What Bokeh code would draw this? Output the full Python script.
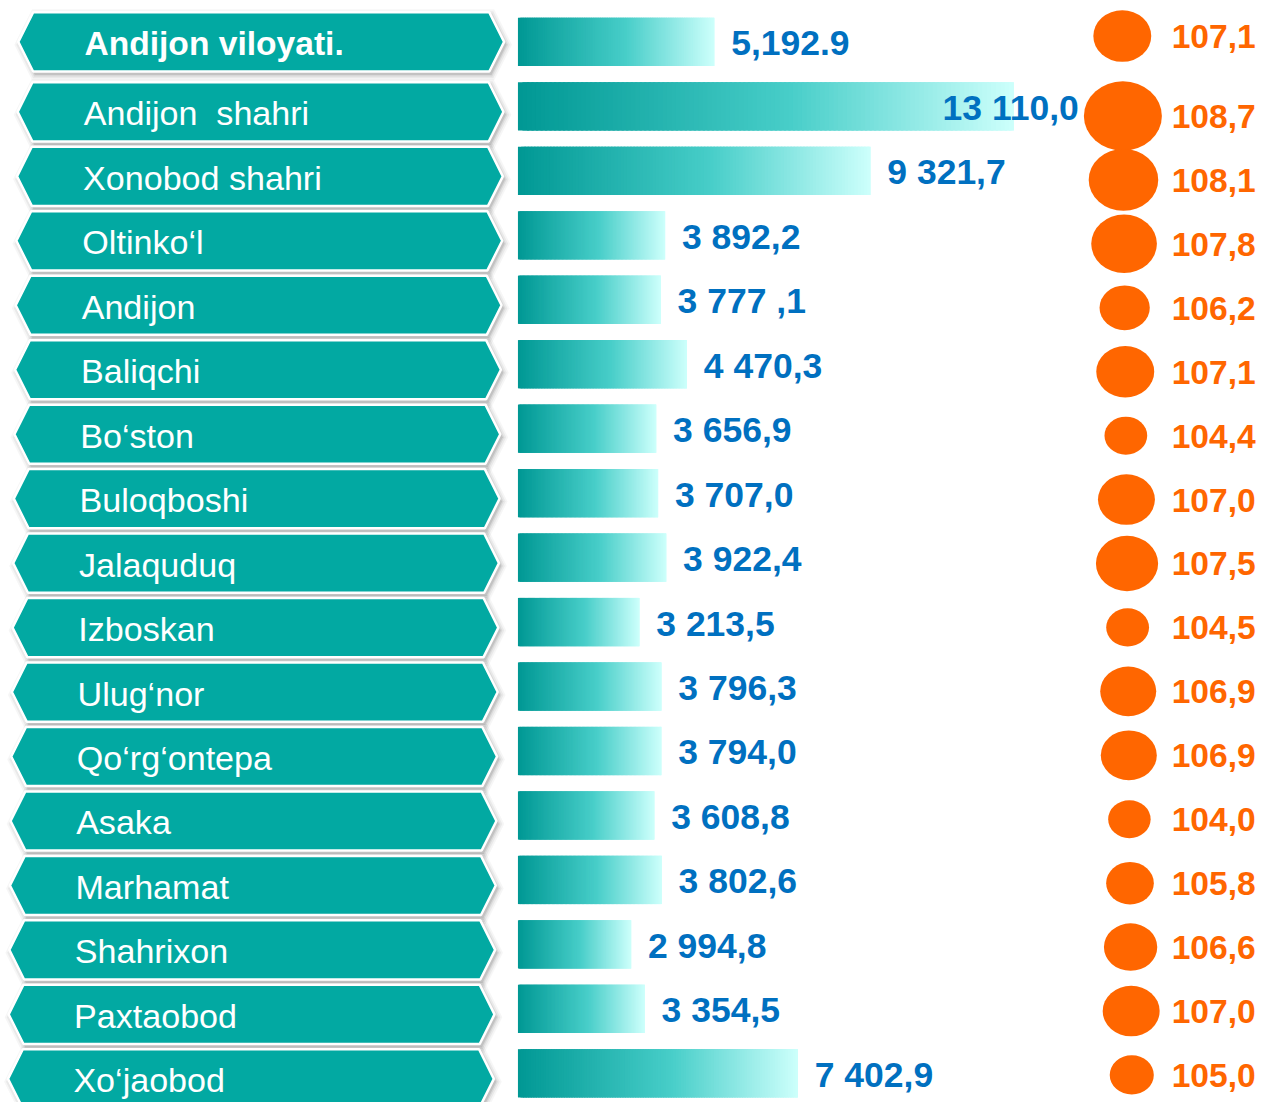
import numpy as np
from bokeh.plotting import figure
from bokeh.models import Range1d, ColumnDataSource
from bokeh.core.properties import value
from bokeh.embed import file_html
from bokeh.resources import INLINE

# ---------------- data ----------------
districts = ["Andijon viloyati.", "Andijon \u00a0shahri", "Xonobod shahri", "Oltinko\u2018l",
             "Andijon", "Baliqchi", "Bo\u2018ston", "Buloqboshi", "Jalaquduq", "Izboskan",
             "Ulug\u2018nor", "Qo\u2018rg\u2018ontepa", "Asaka", "Marhamat", "Shahrixon",
             "Paxtaobod", "Xo\u2018jaobod"]
amounts = [5192.9, 13110.0, 9321.7, 3892.2, 3777.1, 4470.3, 3656.9, 3707.0, 3922.4,
           3213.5, 3796.3, 3794.0, 3608.8, 3802.6, 2994.8, 3354.5, 7402.9]
amount_labels = ["5,192.9", "13 110,0", "9 321,7", "3 892,2", "3 777 ,1", "4 470,3",
                 "3 656,9", "3 707,0", "3 922,4", "3 213,5", "3 796,3", "3 794,0",
                 "3 608,8", "3 802,6", "2 994,8", "3 354,5", "7 402,9"]
growth = [107.1, 108.7, 108.1, 107.8, 106.2, 107.1, 104.4, 107.0, 107.5, 104.5,
          106.9, 106.9, 104.0, 105.8, 106.6, 107.0, 105.0]
growth_labels = ["107,1", "108,7", "108,1", "107,8", "106,2", "107,1", "104,4", "107,0",
                 "107,5", "104,5", "106,9", "106,9", "104,0", "105,8", "106,6", "107,0",
                 "105,0"]

# ---------------- layout (designed on a 1279 x 1118 canvas, rendered slightly smaller) ----
W, H = 1263, 1102
REF_W, REF_H = 1279, 1118
K = 0.0383                 # canvas pixels per unit of amount
BAR_X0 = 524               # canvas x of bar origin
ROW_Y0, ROW_STEP = 42, 65.4
CIR_Y0, CIR_STEP = 52.3, 64.86
FS = W / REF_W             # font scale

p = figure(width=W, height=H, output_backend="svg", toolbar_location=None,
           x_range=Range1d((0 - BAR_X0) / K, (REF_W - BAR_X0) / K),
           y_range=Range1d((REF_H - ROW_Y0) / ROW_STEP, (0 - ROW_Y0) / ROW_STEP),
           x_axis_location=None, y_axis_location=None, min_border=0,
           outline_line_color=None, background_fill_color="white",
           border_fill_color="white")
p.grid.visible = False
p.extra_x_ranges = {"px": Range1d(0, REF_W)}
p.extra_y_ranges = {"circ": Range1d((REF_H - CIR_Y0) / CIR_STEP, (0 - CIR_Y0) / CIR_STEP)}

n = len(districts)

def fs(px):
    return "%.1fpx" % (px * FS)

# ---------------- banners ----------------
def banner_center(i):
    return ROW_Y0 + ROW_STEP * i + (0.0 if i == 0 else 5.6)

def hexagon(i, grow=0.0, dx=0.0, dy=0.0):
    shift = -0.65 * i
    cy = banner_center(i) + dy
    L = 18 + shift + dx
    R = 510 + shift + dx
    hh = 30 + grow
    xs = [L - grow, L + 15 - grow * 0.5, R - 15 + grow * 0.5, R + grow,
          R - 15 + grow * 0.5, L + 15 - grow * 0.5]
    ys_px = [cy, cy - hh, cy - hh, cy, cy + hh, cy + hh]
    ys = [(y - ROW_Y0) / ROW_STEP for y in ys_px]
    return xs, ys

for grow, alpha in [(6, 0.035), (4, 0.05), (2, 0.07), (0.5, 0.10)]:
    xs, ys = zip(*[hexagon(i, grow, 2, 3) for i in range(n)])
    p.patches(xs=list(xs), ys=list(ys), x_range_name="px", fill_color="black",
              fill_alpha=alpha, line_color=None)

xs, ys = zip(*[hexagon(i) for i in range(n)])
p.patches(xs=list(xs), ys=list(ys), x_range_name="px", fill_color="#02A9A2",
          line_color="white", line_width=2.5)

lbl_x = [85 - 0.7 * i for i in range(n)]
lbl_y = [(banner_center(i) + 1.5 - ROW_Y0) / ROW_STEP for i in range(n)]
p.text(x=lbl_x[:1], y=lbl_y[:1], text=districts[:1], x_range_name="px",
       text_font=value("Liberation Sans"), text_font_size=fs(34), text_font_style="bold",
       text_color="white", text_baseline="middle", text_align="left")
p.text(x=lbl_x[1:], y=lbl_y[1:], text=districts[1:], x_range_name="px",
       text_font=value("Liberation Sans"), text_font_size=fs(34.5),
       text_color="white", text_baseline="middle", text_align="left")

# ---------------- gradient bars ----------------
stops = [(0.0, (0, 152, 148)), (0.55, (72, 206, 201)), (1.0, (205, 255, 252))]
def grad(t):
    for (t0, c0), (t1, c1) in zip(stops[:-1], stops[1:]):
        if t <= t1:
            f = (t - t0) / (t1 - t0)
            c = [round(a + (b - a) * f) for a, b in zip(c0, c1)]
            return "#%02x%02x%02x" % tuple(c)
    return "#%02x%02x%02x" % stops[-1][1]

N = 110
left, right, top, bottom, colors = [], [], [], [], []
half = 24.5 / ROW_STEP
for i, v in enumerate(amounts):
    for j in range(N):
        left.append(v * j / N)
        right.append(min(v, v * (j + 2.5) / N))
        top.append(i - half)
        bottom.append(i + half)
        colors.append(grad((j + 0.5) / N))
p.quad(left=left, right=right, top=top, bottom=bottom, fill_color=colors, line_color=None)

# value labels
gap = 17 / K
limit_px = 1092
src_l = dict(x=[], y=[], t=[])
src_r = dict(x=[], y=[], t=[])
for i, (v, t) in enumerate(zip(amounts, amount_labels)):
    y = i + 1.5 / ROW_STEP
    if BAR_X0 + v * K + 17 + 140 > limit_px:
        src_r["x"].append((limit_px - BAR_X0) / K); src_r["y"].append(y); src_r["t"].append(t)
    else:
        src_l["x"].append(v + gap); src_l["y"].append(y); src_l["t"].append(t)
for src, align in [(src_l, "left"), (src_r, "right")]:
    p.text(x="x", y="y", text="t", source=ColumnDataSource(src),
           text_font=value("Liberation Sans"), text_font_size=fs(36), text_font_style="bold",
           text_color="#0070C0", text_baseline="middle", text_align=align)

# ---------------- growth circles ----------------
crow = [(-0.25 if i == 0 else float(i)) for i in range(n)]
cx = [1136 + 0.6 * i for i in range(n)]
cw = [(43 + 1.63 * (g - 104.0) ** 2) * FS for g in growth]
ch = [w * 0.89 for w in cw]
p.ellipse(x=cx, y=crow, width=cw, height=ch, width_units="screen", height_units="screen",
          x_range_name="px", y_range_name="circ", fill_color="#FF6600", line_color=None)
p.text(x=[1186] * n, y=[c + 0.5 / CIR_STEP for c in crow], text=growth_labels,
       x_range_name="px", y_range_name="circ",
       text_font=value("Liberation Sans"), text_font_size=fs(34), text_font_style="bold",
       text_color="#FF6600", text_baseline="middle", text_align="left")

open("out.html", "w").write(file_html(p, INLINE))
